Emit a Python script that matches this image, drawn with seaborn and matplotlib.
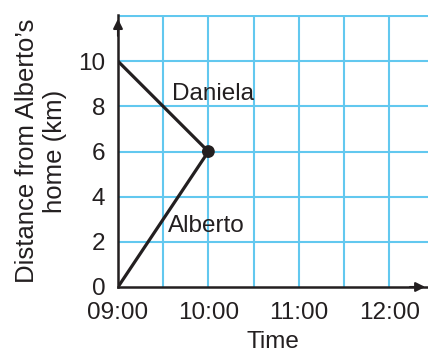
import matplotlib
matplotlib.use("Agg")
import matplotlib.pyplot as plt
import seaborn as sns
import pandas as pd

sns.set_style("white")
plt.rcParams['font.family'] = ['Liberation Sans', 'DejaVu Sans']

# Data: hours after 09:00
alberto_t = [0, 1]
alberto_d = [0, 6]
daniela_t = [0, 1]
daniela_d = [10, 6]
meet_t = [1]
meet_d = [6]
xtick_vals = [0, 1, 2, 3]
xtick_labels = ["09:00", "10:00", "11:00", "12:00"]
ytick_vals = [0, 2, 4, 6, 8, 10]

df = pd.DataFrame({
    "t": alberto_t + daniela_t,
    "d": alberto_d + daniela_d,
    "who": ["Alberto"] * 2 + ["Daniela"] * 2,
})

fig = plt.figure(figsize=(4.28, 3.54), dpi=100)
ax = fig.add_axes([0.2757, 0.1893, 0.7243, 0.7684])

grid_c = "#62c8ef"
for x in [0.5, 1, 1.5, 2, 2.5, 3]:
    ax.axvline(x, color=grid_c, lw=1.5, zorder=0)
for y in [2, 4, 6, 8, 10, 12]:
    ax.axhline(y, color=grid_c, lw=1.5, zorder=0)

sns.lineplot(data=df, x="t", y="d", units="who", estimator=None,
             color="#231f20", lw=2.3, ax=ax, legend=False, zorder=3)
sns.scatterplot(x=meet_t, y=meet_d, color="#231f20", s=85, ax=ax, zorder=4,
                edgecolor="none")

ax.set_xlim(0, 3.43)
ax.set_ylim(0, 12.05)
ax.set_xticks(xtick_vals)
ax.set_xticklabels(xtick_labels)
ax.set_yticks(ytick_vals)
for s in ["top", "right"]:
    ax.spines[s].set_visible(False)
for s in ["left", "bottom"]:
    ax.spines[s].set_color("#231f20")
    ax.spines[s].set_linewidth(1.8)
    ax.spines[s].set_zorder(5)
ax.tick_params(axis="both", direction="out", length=7, width=1.5,
               color="#231f20", labelsize=17.5, labelcolor="#231f20")
ax.tick_params(axis="x", pad=4)
ax.tick_params(axis="y", pad=2)

# arrows
ax.annotate("", xy=(0, 12.0), xytext=(0, 11.0),
            arrowprops=dict(arrowstyle="-|>", color="#231f20", lw=1.5,
                            mutation_scale=14), annotation_clip=False, zorder=6)
ax.annotate("", xy=(3.43, 0), xytext=(3.2, 0),
            arrowprops=dict(arrowstyle="-|>", color="#231f20", lw=1.5,
                            mutation_scale=14), annotation_clip=False, zorder=6)

ax.text(0.6, 8.3, "Daniela", fontsize=17.5, color="#231f20", zorder=6)
ax.text(0.55, 2.45, "Alberto", fontsize=17.5, color="#231f20", zorder=6)

ax.set_xlabel("Time", fontsize=17.5, color="#231f20", labelpad=5)
ax.set_ylabel("Distance from Alberto\u2019s\nhome (km)", fontsize=18.5,
              color="#231f20", labelpad=8, linespacing=1.2)

fig.savefig("out.png", dpi=100)
